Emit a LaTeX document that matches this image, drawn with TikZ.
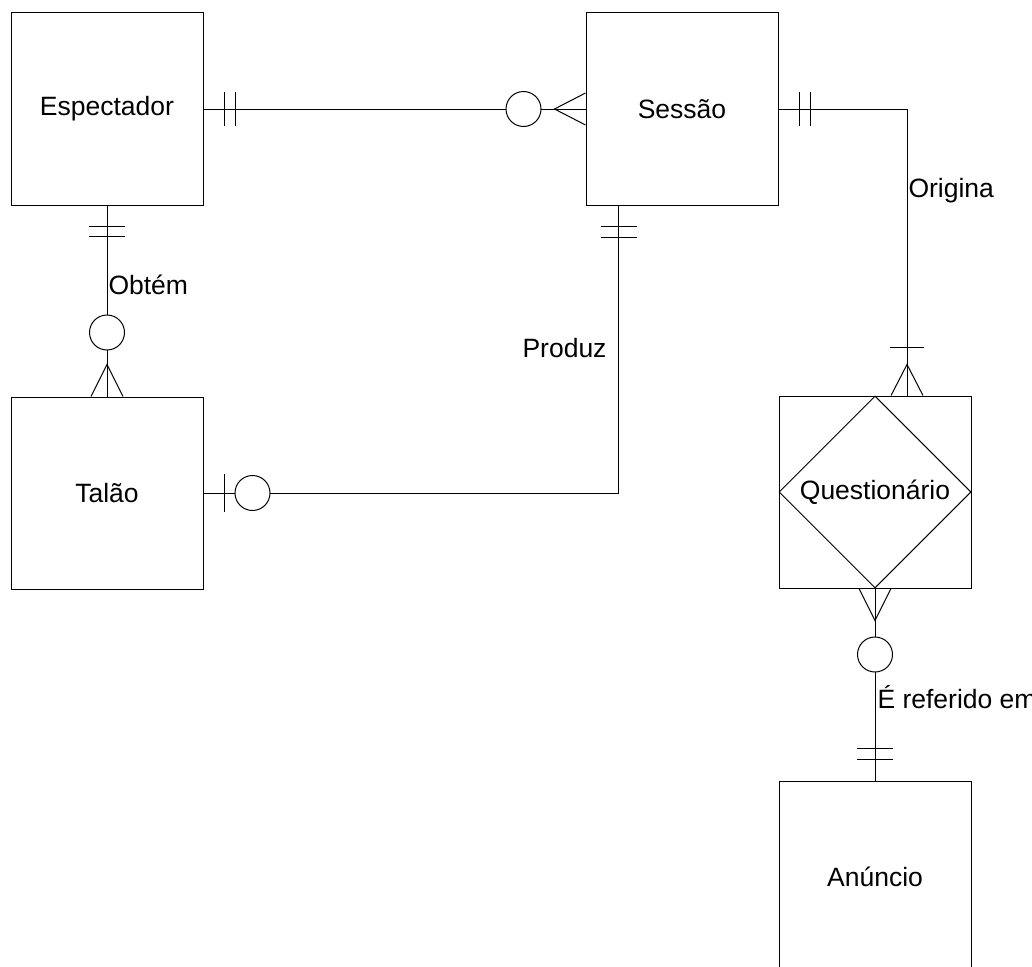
\documentclass[tikz,border=0pt]{standalone}
\usepackage{fontspec}
\setmainfont{Liberation Sans}
\usetikzlibrary{shapes.geometric,positioning,calc}

\begin{document}
\begin{tikzpicture}[x=1pt,y=-1pt,line width=1pt,
  entity/.style={draw,rectangle,minimum width=192pt,minimum height=192pt,inner sep=0pt,font=\fontsize{26.5}{30}\selectfont},
  assoc/.style={draw,diamond,aspect=1,minimum width=192pt,minimum height=192pt,inner sep=0pt,font=\fontsize{26.5}{30}\selectfont},
  rel/.style={inner sep=0pt,font=\fontsize{26.5}{30}\selectfont},
  ring/.style={draw,fill=white,circle,minimum size=35pt,inner sep=0pt}]
\clip (0,0) rectangle (1032,966);

\node[entity] (esp) at (107,109) {Espectador};
\node[entity] (ses) at (682,109) {Sessão};
\node[entity] (tal) at (107,493) {Talão};
\node[entity] (que) at (875,492) {};
\node[assoc] (queD) at (que) {Questionário};
\node[entity] (anu) at (875,877) {Anúncio};

\coordinate (sesP) at ($(ses.south west)+(33,0)$);
\coordinate (queO) at ($(que.north)+(32,0)$);

% Espectador - Sessao
\draw (esp.east) -- (ses.west);
\foreach \d in {21,32} \draw ($(esp.east)+(\d,-17)$) -- ++(0,34);
\draw ($(ses.west)+(0,-16)$) -- ($(ses.west)+(-31,0)$) -- ($(ses.west)+(0,16)$);
\node[ring] (r0) at ($(ses.west)+(-62,0)$) {};

% Espectador - Talao
\draw (esp.south) -- (tal.north);
\foreach \d in {21,31} \draw ($(esp.south)+(-18,\d)$) -- ++(36,0);
\draw ($(tal.north)+(-16,0)$) -- ($(tal.north)+(0,-32)$) -- ($(tal.north)+(16,0)$);
\node[ring] (r1) at ($(tal.north)+(0,-64)$) {};
\node[rel,anchor=base west] (lObt) at (108,294) {Obtém};

% Talao - Sessao
\draw (tal.east) -| (sesP);
\draw ($(tal.east)+(21,-19)$) -- ++(0,38);
\node[ring] (r2) at ($(tal.east)+(49,0)$) {};
\foreach \d in {21,32} \draw ($(sesP)+(-18,\d)$) -- ++(36,0);
\node[rel,anchor=base east] (lPro) at (607,357) {Produz};

% Sessao - Questionario
\draw (ses.east) -| (queO);
\foreach \d in {21,32} \draw ($(ses.east)+(\d,-17)$) -- ++(0,34);
\draw ($(queO)+(-17,-48)$) -- ++(34,0);
\draw ($(queO)+(-16,0)$) -- ($(queO)+(0,-31)$) -- ($(queO)+(16,0)$);
\node[rel,anchor=base west] (lOri) at (908,197) {Origina};

% Questionario - Anuncio
\draw (que.south) -- (anu.north);
\draw ($(que.south)+(-16,0)$) -- ($(que.south)+(0,32)$) -- ($(que.south)+(16,0)$);
\node[ring] (r3) at ($(que.south)+(0,66)$) {};
\foreach \d in {21,32} \draw ($(anu.north)+(-18,-\d)$) -- ++(36,0);
\node[rel,anchor=base west] (lRef) at (877,708) {É referido em};
\end{tikzpicture}
\end{document}
